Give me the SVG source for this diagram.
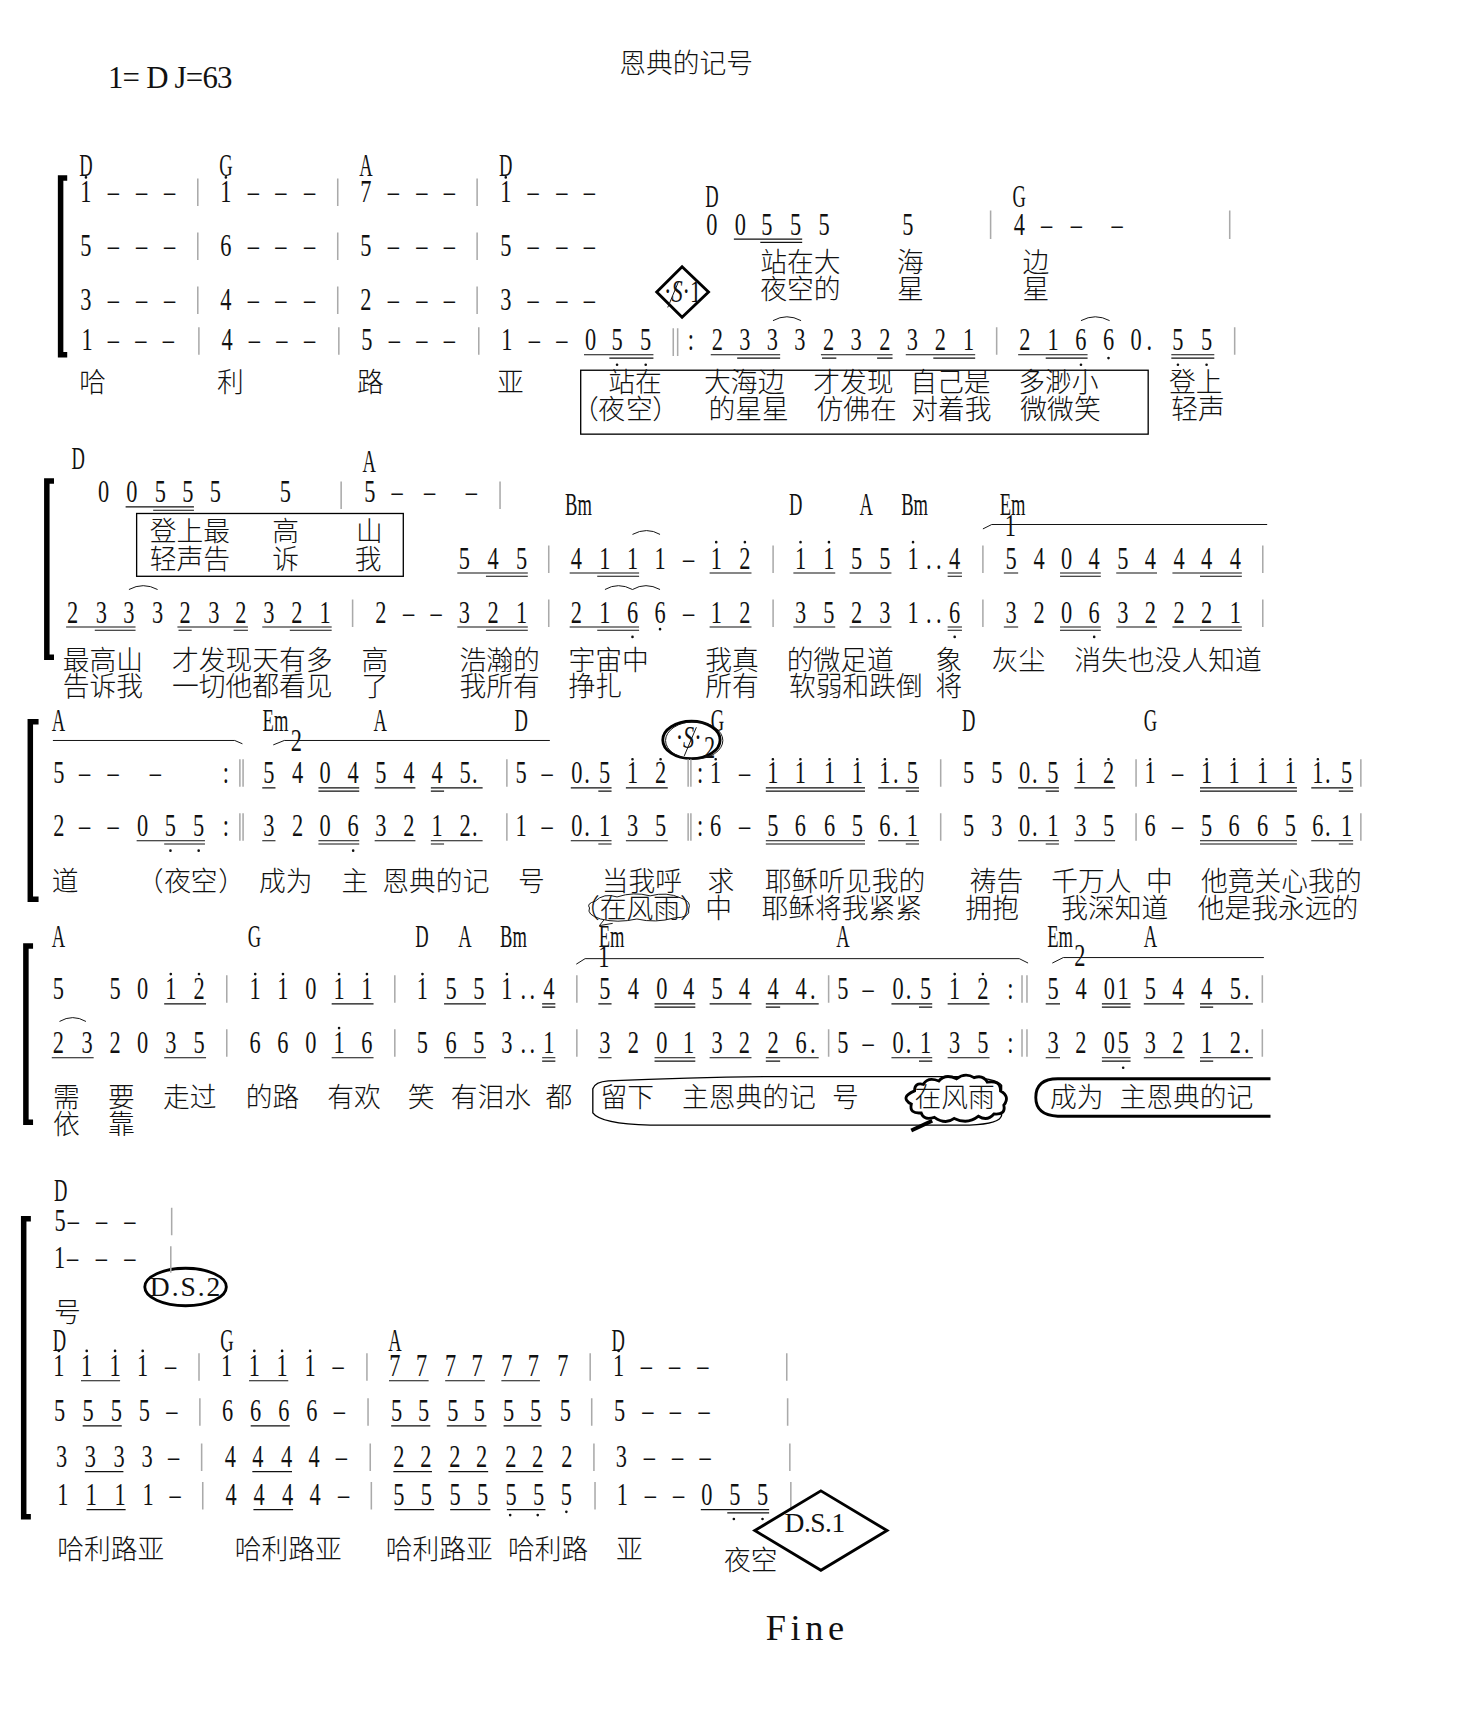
<svg xmlns="http://www.w3.org/2000/svg" width="1482" height="1728" viewBox="0 0 1482 1728">
<style>
text{fill:#111}
.n text,text.n{font:29px "Liberation Serif","Noto Sans CJK SC",serif;text-anchor:middle;transform-box:fill-box;transform-origin:center;transform:scaleX(.7)}
.c text{font:29px "Liberation Serif",serif;text-anchor:middle;transform-box:fill-box;transform-origin:center;transform:translateY(1px) scaleX(.58)}
.l text,text.l{font:24.3px "Noto Sans CJK SC",sans-serif;font-weight:300;transform:translateY(1px)}
.m{font-family:"Liberation Serif",serif}
.u{fill:none;stroke:#111;stroke-width:1}
.b{fill:none;stroke:#aaa;stroke-width:1.4}
.d{fill:none;stroke:#111;stroke-width:2.4;stroke-linecap:round}
.k{fill:none;stroke:#000;stroke-width:5}
.t{fill:none;stroke:#111;stroke-width:.9}
.h{fill:none;stroke:#000;stroke-width:2.6}
.w{fill:none;stroke:#000;stroke-width:1.2}
</style>
<rect width="1482" height="1728" fill="#fff"/>
<g transform="scale(1.1019)">
<g id="header">
<text class="l" x="562" y="65">恩典的记号</text>
<text class="m" x="98" y="80" font-size="28" textLength="113" lengthAdjust="spacing">1= D J=63</text>
</g>

<g id="system1">
<path class="k" d="M61 161.5H55V322H61"/>
<g class="c" transform="translate(0,159)"><text x="78">D</text><text x="205">G</text><text x="332">A</text><text x="459">D</text></g>
<g class="c" transform="translate(0,187)"><text x="646">D</text><text x="925">G</text></g>
<g class="n" transform="translate(0,183)"><text x="78">1</text><text x="103">–</text><text x="128.6">–</text><text x="154">–</text><text x="205">1</text><text x="230">–</text><text x="255">–</text><text x="281">–</text><text x="332">7</text><text x="357">–</text><text x="383">–</text><text x="408">–</text><text x="459">1</text><text x="484">–</text><text x="510">–</text><text x="535">–</text></g>
<g class="n" transform="translate(0,232)"><text x="78">5</text><text x="103">–</text><text x="128.6">–</text><text x="154">–</text><text x="205">6</text><text x="230">–</text><text x="255">–</text><text x="281">–</text><text x="332">5</text><text x="357">–</text><text x="383">–</text><text x="408">–</text><text x="459">5</text><text x="484">–</text><text x="510">–</text><text x="535">–</text></g>
<g class="n" transform="translate(0,281)"><text x="78">3</text><text x="103">–</text><text x="128.6">–</text><text x="154">–</text><text x="205">4</text><text x="230">–</text><text x="255">–</text><text x="281">–</text><text x="332">2</text><text x="357">–</text><text x="383">–</text><text x="408">–</text><text x="459">3</text><text x="484">–</text><text x="510">–</text><text x="535">–</text></g>
<g class="n" transform="translate(0,318)"><text x="79">1</text><text x="103">–</text><text x="128">–</text><text x="153">–</text><text x="206">4</text><text x="231">–</text><text x="256">–</text><text x="281">–</text><text x="333">5</text><text x="358">–</text><text x="383">–</text><text x="408">–</text><text x="460">1</text><text x="485">–</text><text x="510">–</text><text x="536">0</text><text x="560">5</text><text x="586">5</text><text x="627">:</text><text x="651">2</text><text x="676">3</text><text x="701">3</text><text x="726">3</text><text x="752">2</text><text x="777">3</text><text x="803">2</text><text x="828">3</text><text x="853.5">2</text><text x="879">1</text><text x="930">2</text><text x="955.6">1</text><text x="981">6</text><text x="1006">6</text><text x="1031">0</text><text x="1043">.</text><text x="1069">5</text><text x="1095">5</text></g>
<g class="n" transform="translate(0,213)"><text x="646">0</text><text x="672">0</text><text x="696">5</text><text x="722">5</text><text x="748">5</text><text x="824">5</text><text x="925">4</text><text x="950">–</text><text x="977">–</text><text x="1014">–</text></g>
<path class="b" d="M179.5 162V187M306.5 162V187M433 162V187M179.5 211V236M306.5 211V236M433 211V236M179.5 260V285M306.5 260V285M433 260V285M180.5 297V322M307.5 297V322M434.5 297V322M899 191V217M1116 191V217M904.5 297V322M1120.5 297V322M611 298V323M615 298V323"/>
<path class="u" d="M530 322H593M553 325H593M666 217H728M690 220H728M645 322H708M669 325H708M745 322H810M746 325H759M796 325H810M822 322H885M847 325H885M924 322H987M949 325H987M1063 322H1102M1063 325H1102"/>
<path class="d" d="M78 161h0M205 161h0M459 161h0M560 331h0M586 331h0M981 331h0M1006 325h0M1069 331h0M1095 331h0"/>
<path class="t" d="M701.5 291Q714 284 727 291M981 291Q994 284 1007 291"/>
<g class="l" transform="translate(0,246)"><text x="690">站在大</text><text x="814">海</text><text x="928">边</text></g>
<g class="l" transform="translate(0,270)"><text x="690">夜空的</text><text x="814">星</text><text x="928">星</text></g>
<path class="h" d="M619 242L643 265L619 288L596 265Z"/>
<text class="n" x="619.5" y="274">·<tspan font-style="italic">S</tspan>·1</text>
<path class="t" d="M606 279L616 255"/>
<rect class="w" x="527" y="336" width="515" height="58"/>
<g class="l" transform="translate(0,355)"><text x="72">哈</text><text x="197">利</text><text x="324">路</text><text x="451">亚</text><text x="552">站在</text><text x="639">大海边</text><text x="738">才发现</text><text x="826">自己是</text><text x="924">多渺小</text><text x="1061">登上</text></g>
<g class="l" transform="translate(0,379)"><text x="519 543 568 592">（夜空）</text><text x="643">的星星</text><text x="741">仿佛在</text><text x="827">对着我</text><text x="926">微微笑</text><text x="1063">轻声</text></g>
</g>

<g id="system2">
<path class="k" d="M49 436.5H42.5V596.5H49"/>
<g class="c" transform="translate(0,425)"><text x="71">D</text></g>
<g class="c" transform="translate(0,427)"><text x="335">A</text></g>
<g class="c" transform="translate(0,466)"><text x="525">Bm</text><text x="722">D</text><text x="786">A</text><text x="830">Bm</text><text x="919">Em</text></g>
<g class="n" transform="translate(0,456)"><text x="94">0</text><text x="119.6">0</text><text x="145.5">5</text><text x="170.4">5</text><text x="195.5">5</text><text x="259">5</text><text x="335.6">5</text><text x="360.5">–</text><text x="390">–</text><text x="428">–</text></g>
<path class="b" d="M309.6 437V462M453.8 437V462M498 495V520M701.6 495V520M892 495V520M1146 495V520M320 544V569M498 544V569M701.6 544V569M892 544V569M1146 544V569"/>
<rect class="w" x="124" y="466" width="242" height="57"/>
<g class="l" transform="translate(0,490)"><text x="136">登上最</text><text x="247">高</text><text x="323">山</text></g>
<g class="l" transform="translate(0,515)"><text x="136">轻声告</text><text x="247">诉</text><text x="322">我</text></g>
<g class="n" transform="translate(0,516)"><text x="421.5">5</text><text x="447.4">4</text><text x="473.3">5</text><text x="523">4</text><text x="549">1</text><text x="574">1</text><text x="599">1</text><text x="625">–</text><text x="650">1</text><text x="676">2</text><text x="726.5">1</text><text x="752.3">1</text><text x="777.4">5</text><text x="803">5</text><text x="828.6">1</text><text x="843">.</text><text x="852">.</text><text x="866.4">4</text><text x="917.5">5</text><text x="943">4</text><text x="968">0</text><text x="993">4</text><text x="1019">5</text><text x="1044">4</text><text x="1070">4</text><text x="1095">4</text><text x="1121">4</text></g>
<g class="n" transform="translate(0,565)"><text x="66">2</text><text x="92">3</text><text x="117">3</text><text x="143">3</text><text x="168">2</text><text x="194">3</text><text x="218.5">2</text><text x="244">3</text><text x="269.5">2</text><text x="295">1</text><text x="345.6">2</text><text x="371">–</text><text x="396">–</text><text x="421.5">3</text><text x="447.4">2</text><text x="473.3">1</text><text x="523">2</text><text x="549">1</text><text x="574">6</text><text x="599">6</text><text x="625">–</text><text x="650">1</text><text x="676">2</text><text x="726.5">3</text><text x="752.3">5</text><text x="777.4">2</text><text x="803">3</text><text x="828.6">1</text><text x="843">.</text><text x="852">.</text><text x="866.4">6</text><text x="917.5">3</text><text x="943">2</text><text x="968">0</text><text x="993">6</text><text x="1019">3</text><text x="1044">2</text><text x="1070">2</text><text x="1095">2</text><text x="1121">1</text></g>
<path class="u" d="M114 460H176M139 463H176M415 520H479M441 523H479M517 520H580M542 523H580M644 520H682M720 520H758M771 520H809M860 520H873M860 523H873M911 520H924M962 520H999M962 523H999M1013 520H1050M1064 520H1127M1089 523H1127M60 569H123M86 572H123M161 569H225M162 572H174M212 572H225M238 569H301M263 572H301M415 569H479M441 572H479M517 569H580M542 572H580M644 569H682M720 569H758M771 569H809M860 569H873M860 572H873M911 569H924M962 569H999M962 572H999M1013 569H1050M1064 569H1127M1089 572H1127"/>
<path class="d" d="M650 492h0M676 492h0M726.5 492h0M752.3 492h0M828.6 492h0M574 578h0M599 571h0M866.4 578h0M993 578h0"/>
<path class="t" d="M574 485Q587 478 599 485M117 535Q130 528 143 535M549 535Q561 528 574 535Q586 528 599 535M892 480L900 476H1150"/>
<text class="n" x="917" y="486">1</text>
<g class="l" transform="translate(0,607)"><text x="57">最高山</text><text x="156">才发现天有多</text><text x="328">高</text><text x="417">浩瀚的</text><text x="516">宇宙中</text><text x="640">我真</text><text x="714">的微足道</text><text x="849">象</text><text x="900">灰尘</text><text x="975">消失也没人知道</text></g>
<g class="l" transform="translate(0,631)"><text x="57">告诉我</text><text x="156">一切他都看见</text><text x="328">了</text><text x="417">我所有</text><text x="516">挣扎</text><text x="640">所有</text><text x="716">软弱和跌倒</text><text x="849">将</text></g>
</g>

<g id="system3">
<path class="k" d="M35 655H27.5V816H35"/>
<g class="c" transform="translate(0,662)"><text x="53">A</text><text x="250">Em</text><text x="345">A</text><text x="473">D</text><text x="651">G</text><text x="879">D</text><text x="1044">G</text></g>
<path class="t" d="M48 672H213L220 675M248 676L258 672H499"/>
<text class="n" x="269" y="682">2</text>
<ellipse class="h" cx="627.5" cy="671.5" rx="26" ry="17"/>
<ellipse class="t" cx="630" cy="672" rx="26" ry="17"/>
<text class="n" x="625" y="679">·<tspan font-style="italic">S</tspan>·</text>
<text class="n" x="644" y="688">2</text>
<path class="t" d="M621 686L632 660"/>
<g class="n" transform="translate(0,711)"><text x="53.5">5</text><text x="77">–</text><text x="102.7">–</text><text x="141">–</text><text x="205">:</text><text x="244">5</text><text x="270">4</text><text x="295">0</text><text x="320.5">4</text><text x="345.6">5</text><text x="371">4</text><text x="396.7">4</text><text x="422">5</text><text x="431">.</text><text x="473">5</text><text x="496.6">–</text><text x="523.5">0</text><text x="532.7">.</text><text x="548.6">5</text><text x="574">1</text><text x="599.5">2</text><text x="635.4">:</text><text x="649.5">1</text><text x="675.8">–</text><text x="701.4">1</text><text x="726.4">1</text><text x="752.8">1</text><text x="778">1</text><text x="803">1</text><text x="813">.</text><text x="828">5</text><text x="879">5</text><text x="904.7">5</text><text x="929.8">0</text><text x="939">.</text><text x="955.4">5</text><text x="981">1</text><text x="1006">2</text><text x="1043.7">1</text><text x="1068.8">–</text><text x="1095">1</text><text x="1120">1</text><text x="1145.8">1</text><text x="1171">1</text><text x="1196">1</text><text x="1205">.</text><text x="1222">5</text></g>
<g class="n" transform="translate(0,759)"><text x="53.5">2</text><text x="77">–</text><text x="102.7">–</text><text x="129.5">0</text><text x="154.7">5</text><text x="180.3">5</text><text x="205">:</text><text x="244">3</text><text x="270">2</text><text x="295">0</text><text x="320.5">6</text><text x="345.6">3</text><text x="371">2</text><text x="396.7">1</text><text x="422">2</text><text x="431">.</text><text x="473">1</text><text x="496.6">–</text><text x="523.5">0</text><text x="532.7">.</text><text x="548.6">1</text><text x="574">3</text><text x="599.5">5</text><text x="635.4">:</text><text x="649.5">6</text><text x="675.8">–</text><text x="701.4">5</text><text x="726.4">6</text><text x="752.8">6</text><text x="778">5</text><text x="803">6</text><text x="813">.</text><text x="828">1</text><text x="879">5</text><text x="904.7">3</text><text x="929.8">0</text><text x="939">.</text><text x="955.4">1</text><text x="981">3</text><text x="1006">5</text><text x="1043.7">6</text><text x="1068.8">–</text><text x="1095">5</text><text x="1120">6</text><text x="1145.8">6</text><text x="1171">5</text><text x="1196">6</text><text x="1205">.</text><text x="1222">1</text></g>
<path class="b" d="M217.7 689V714M220.6 689V714M460 689V714M624.5 689V714M627 689V714M853.7 689V714M1031 689V714M1235 689V714M217.7 738V763M220.6 738V763M460 738V763M624.5 738V763M627 738V763M853.7 738V763M1031 738V763M1235 738V763"/>
<path class="u" d="M238 715H250M289 715H326M289 718H326M340 715H377M391 715H438M391 718H403M518 715H555M543 718H555M568 715H606M695 715H785M695 718H785M797 715H834M822 718H834M924 715H961M949 718H961M975 715H1012M1089 715H1177M1089 718H1177M1190 715H1228M1215 718H1228M124 763H186M149 766H186M238 763H250M289 763H326M289 766H326M340 763H377M391 763H438M391 766H403M518 763H555M543 766H555M568 763H606M695 763H785M695 766H785M797 763H834M822 766H834M924 763H961M949 766H961M975 763H1012M1089 763H1177M1089 766H1177M1190 763H1228M1215 766H1228"/>
<path class="d" d="M574 689h0M599.5 689h0M649.5 689h0M701.4 689h0M726.4 689h0M752.8 689h0M778 689h0M803 689h0M981 689h0M1006 689h0M1043.7 689h0M1095 689h0M1120 689h0M1145.8 689h0M1171 689h0M1196 689h0M154.7 772h0M180.3 772h0M320.5 772h0"/>
<g class="l" transform="translate(0,808)"><text x="47">道</text><text x="124 149 173 198">（夜空）</text><text x="235">成为</text><text x="310">主</text><text x="347">恩典的记</text><text x="470">号</text><text x="546">当我呼</text><text x="642">求</text><text x="694">耶稣听见我的</text><text x="880">祷告</text><text x="954">千万人</text><text x="1040">中</text><text x="1090">他竟关心我的</text></g>
<g class="l" transform="translate(0,832)"><text x="520">（在风雨）</text><text x="640">中</text><text x="691">耶稣将我紧紧</text><text x="876">拥抱</text><text x="963">我深知道</text><text x="1087">他是我永远的</text></g>
<path class="t" d="M540 818Q548 810 560 814Q575 809 590 813Q605 809 618 815Q628 818 625 825Q627 833 612 833Q595 838 578 834Q560 838 545 834Q532 830 535 824Q532 820 540 818ZM548 835L544 840L556 838"/>
</g>

<g id="system4">
<path class="k" d="M30 858.5H23.5V1018.5H30"/>
<g class="c" transform="translate(0,858)"><text x="53">A</text><text x="231">G</text><text x="383">D</text><text x="422">A</text><text x="466">Bm</text><text x="555">Em</text><text x="765">A</text><text x="962">Em</text><text x="1044">A</text></g>
<path class="t" d="M523 875L531 870H925L933 874M955 874L965 869H1147M54 927Q66 920 78 927"/>
<text class="n" x="548" y="878">1</text>
<text class="n" x="980" y="877">2</text>
<g class="n" transform="translate(0,907)"><text x="53">5</text><text x="104.4">5</text><text x="129.4">0</text><text x="155">1</text><text x="180.6">2</text><text x="231.6">1</text><text x="256.8">1</text><text x="282">0</text><text x="307.7">1</text><text x="333">1</text><text x="383.4">1</text><text x="409.3">5</text><text x="434.5">5</text><text x="460">1</text><text x="475">.</text><text x="483">.</text><text x="498">4</text><text x="549">5</text><text x="574.8">4</text><text x="600.6">0</text><text x="625">4</text><text x="650.7">5</text><text x="675.6">4</text><text x="701.5">4</text><text x="727">4</text><text x="737.6">.</text><text x="765">5</text><text x="788">–</text><text x="815">0</text><text x="824.6">.</text><text x="840">5</text><text x="866.4">1</text><text x="892">2</text><text x="917">:</text><text x="955.7">5</text><text x="981">4</text><text x="1006.8">0</text><text x="1019.3">1</text><text x="1044">5</text><text x="1069">4</text><text x="1095">4</text><text x="1121">5</text><text x="1131.6">.</text></g>
<g class="n" transform="translate(0,956)"><text x="53">2</text><text x="79">3</text><text x="104.4">2</text><text x="129.4">0</text><text x="155">3</text><text x="180.6">5</text><text x="231.6">6</text><text x="256.8">6</text><text x="282">0</text><text x="307.7">1</text><text x="333">6</text><text x="383.4">5</text><text x="409.3">6</text><text x="434.5">5</text><text x="460">3</text><text x="475">.</text><text x="483">.</text><text x="498">1</text><text x="549">3</text><text x="574.8">2</text><text x="600.6">0</text><text x="625">1</text><text x="650.7">3</text><text x="675.6">2</text><text x="701.5">2</text><text x="727">6</text><text x="737.6">.</text><text x="765">5</text><text x="788">–</text><text x="815">0</text><text x="824.6">.</text><text x="840">1</text><text x="866.4">3</text><text x="892">5</text><text x="917">:</text><text x="955.7">3</text><text x="981">2</text><text x="1006.8">0</text><text x="1019.3">5</text><text x="1044">3</text><text x="1069">2</text><text x="1095">1</text><text x="1121">2</text><text x="1131.6">.</text></g>
<path class="b" d="M205.8 885V910M358.3 885V910M523.5 885V910M752 885V910M927.5 885V910M932 885V910M1145.6 885V910M205.8 934V959M358.3 934V959M523.5 934V959M752 934V959M927.5 934V959M932 934V959M1145.6 934V959"/>
<path class="u" d="M149 911H187M301 911H339M403 911H441M492 911H504M492 914H504M543 911H555M594 911H631M594 914H631M644 911H682M695 911H743M695 914H708M809 911H846M834 914H846M860 911H898M949 911H962M1000 911H1026M1000 914H1026M1038 911H1075M1089 911H1137M1089 914H1101M47 960H85M149 960H187M301 960H339M403 960H441M492 960H504M492 963H504M543 960H555M594 960H631M594 963H631M644 960H682M695 960H743M695 963H708M809 960H846M834 963H846M860 960H898M949 960H962M1000 960H1026M1000 963H1026M1038 960H1075M1089 960H1137M1089 963H1101"/>
<path class="d" d="M155 884h0M180.6 884h0M231.6 884h0M256.8 884h0M307.7 884h0M333 884h0M383.4 884h0M460 884h0M866.4 884h0M892 884h0M307.7 933h0M1019.3 969h0"/>
<path class="w" d="M552 981Q640 977 720 977H870Q905 978 909 985V1012Q908 1020 880 1021H590Q545 1020 538 1010V988Q540 982 552 981Z"/>
<path class="h" style="fill:#fff" d="M830 990Q830 982 838 984Q842 977 852 981Q858 974 868 979Q876 973 884 978Q892 975 896 982Q908 980 908 990Q917 995 911 1003Q913 1012 902 1011Q896 1018 888 1013Q878 1021 866 1015Q858 1021 848 1014Q838 1017 836 1010Q825 1011 827 1002Q816 996 830 990Z"/>
<path class="k" style="stroke-width:3.5" d="M827 1026L846 1017"/>
<path class="h" d="M1153 979H960Q940 979 940 996Q940 1012 960 1013H1153"/>
<g class="l" transform="translate(0,1004)"><text x="48">需</text><text x="98">要</text><text x="148">走过</text><text x="223">的路</text><text x="297">有欢</text><text x="370">笑</text><text x="409">有泪水</text><text x="495">都</text><text x="545">留下</text><text x="619">主恩典的记</text><text x="755">号</text><text x="830">在风雨</text><text x="953">成为</text><text x="1016">主恩典的记</text></g>
<g class="l" transform="translate(0,1028)"><text x="48">依</text><text x="98">靠</text></g>
</g>

<g id="system5">
<path class="k" d="M28 1106H21.5V1376.5H28"/>
<g class="c" transform="translate(0,1089)"><text x="55">D</text></g>
<g class="n" transform="translate(0,1117)"><text x="54.5">5</text><text x="66.6">–</text><text x="92.3">–</text><text x="118">–</text></g>
<g class="n" transform="translate(0,1151)"><text x="54">1</text><text x="66">–</text><text x="92">–</text><text x="118">–</text></g>
<ellipse class="h" cx="168.4" cy="1168" rx="37" ry="17"/>
<text class="m" x="136" y="1176" font-size="25" textLength="64" lengthAdjust="spacing">D.S.2</text>
<text class="l" x="49" y="1199">号</text>
<g class="c" transform="translate(0,1225)"><text x="54">D</text><text x="206">G</text><text x="358.5">A</text><text x="561">D</text></g>
<g class="n" transform="translate(0,1249)"><text x="53.4">1</text><text x="78.7">1</text><text x="104.4">1</text><text x="129.5">1</text><text x="155">–</text><text x="205.7">1</text><text x="230.8">1</text><text x="256">1</text><text x="281.4">1</text><text x="307">–</text><text x="358.3">7</text><text x="382.7">7</text><text x="409">7</text><text x="433">7</text><text x="459.9">7</text><text x="484">7</text><text x="510.8">7</text><text x="561.4">1</text><text x="586.7">–</text><text x="612.4">–</text><text x="638">–</text></g>
<g class="n" transform="translate(0,1290)"><text x="54">5</text><text x="80">5</text><text x="105.6">5</text><text x="131">5</text><text x="156">–</text><text x="206.6">6</text><text x="232">6</text><text x="257.5">6</text><text x="283">6</text><text x="308">–</text><text x="360">5</text><text x="384.5">5</text><text x="411">5</text><text x="435">5</text><text x="461.5">5</text><text x="486">5</text><text x="513">5</text><text x="562.4">5</text><text x="588">–</text><text x="613">–</text><text x="639">–</text></g>
<g class="n" transform="translate(0,1331.5)"><text x="56">3</text><text x="82">3</text><text x="108">3</text><text x="133.5">3</text><text x="157.6">–</text><text x="209">4</text><text x="234">4</text><text x="260">4</text><text x="285">4</text><text x="310">–</text><text x="362">2</text><text x="386.5">2</text><text x="412.7">2</text><text x="437">2</text><text x="463.6">2</text><text x="488">2</text><text x="514.5">2</text><text x="563.8">3</text><text x="589.5">–</text><text x="615">–</text><text x="640">–</text></g>
<g class="n" transform="translate(0,1366)"><text x="57">1</text><text x="83">1</text><text x="109">1</text><text x="134.5">1</text><text x="159">–</text><text x="209.6">4</text><text x="235">4</text><text x="261">4</text><text x="286">4</text><text x="312">–</text><text x="362">5</text><text x="387">5</text><text x="413">5</text><text x="438">5</text><text x="463.8">5</text><text x="488.9">5</text><text x="513.9">5</text><text x="564.9">1</text><text x="590.4">–</text><text x="616">–</text><text x="641.4">0</text><text x="667">5</text><text x="692">5</text></g>
<path class="b" d="M155.8 1096V1121M155 1131V1155M180.6 1228V1253M333 1228V1253M535.6 1228V1253M714 1228V1253M181.4 1269V1294M334 1269V1294M537 1269V1294M714.8 1269V1294M183 1310V1335M336 1310V1335M539 1310V1335M716.8 1310V1335M184 1345V1370M337 1345V1370M540 1345V1370M717.7 1345V1370"/>
<path class="u" d="M73.5 1253H109M226 1253H261.6M353 1253H389M404 1253H440M455 1253H490M75 1294H110.5M227.5 1294H263M355 1294H390.5M405.5 1294H441.5M457 1294H491.5M77 1335.5H112M229 1335.5H265M357 1335.5H392M407 1335.5H443M459 1335.5H493M78.5 1370H114M230 1370H266M358 1370H394M408.5 1370H445M460 1370H495M636 1370H698M660 1373H698"/>
<path class="d" d="M53.4 1226h0M78.7 1226h0M104.4 1226h0M129.5 1226h0M205.7 1226h0M230.8 1226h0M256 1226h0M281.4 1226h0M561.4 1226h0M463 1375h0M488 1375h0M514 1372h0M666 1378.5h0M692 1378.5h0"/>
<g class="l" transform="translate(0,1414)"><text x="52">哈利路亚</text><text x="213">哈利路亚</text><text x="350">哈利路亚</text><text x="461">哈利路</text><text x="559">亚</text></g>
<text class="l" x="657" y="1424">夜空</text>
<path class="h" d="M745 1353L805 1389L745 1425L685 1389Z"/>
<text class="m" x="712" y="1390" font-size="25" textLength="55" lengthAdjust="spacing">D.S.1</text>
<text class="m" x="695" y="1488" font-size="33" textLength="71" lengthAdjust="spacing">Fine</text>
</g>
</g>
</svg>
